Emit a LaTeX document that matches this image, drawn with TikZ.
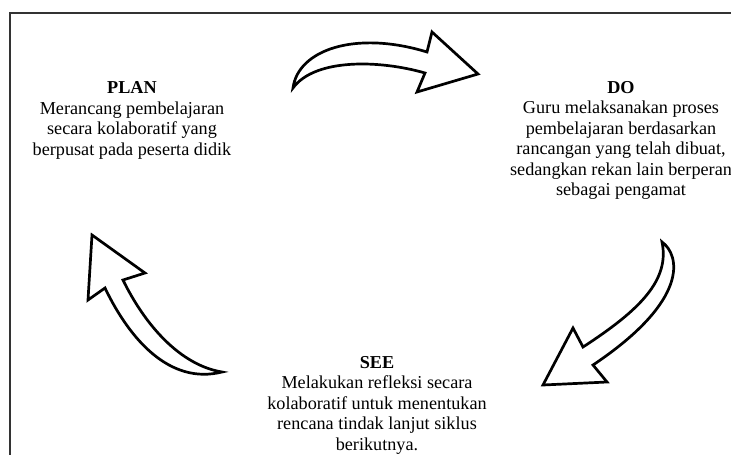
\documentclass[tikz,border=0pt]{standalone}
\usepackage{fontspec}
\setmainfont{Liberation Serif}
\tikzset{
    stage/.style={align=center, inner sep=0pt, font=\fontsize{18.2}{20.5}\selectfont},
    bigarrow/.style={draw=black, fill=white, line width=2.7pt, line join=miter},
}
\begin{document}
\begin{tikzpicture}[x=1pt,y=-1pt]
        \useasboundingbox (0,0) rectangle (731,455);
        \draw [line width=1.8pt, black!80] (10,455) -- (10,13) -- (731,13);

        \coordinate (T) at (293,88);
        \coordinate (R) at (662,242);
        \coordinate (L) at (222,372);
        \filldraw [bigarrow] (T) .. controls (298,50) and (355,30) .. (427,52) -- (432,32) -- (478,74) -- (417,92) -- (425,73) .. controls (380,60) and (315,58) .. (T) -- cycle;
        \filldraw [bigarrow] (R) .. controls (680,255) and (690,300) .. (593,365) -- (607,382) -- (543,385) -- (573,328) -- (583,347) .. controls (640,310) and (670,280) .. (R) -- cycle;
        \filldraw [bigarrow] (L) .. controls (170,385) and (130,340) .. (105,288) -- (88,300) -- (92,235) -- (145,273) -- (123,280) .. controls (145,325) and (180,365) .. (L) -- cycle;

        \node [stage] (plan) at (132,120.5) {\textbf{PLAN}\\Merancang pembelajaran\\secara kolaboratif yang\\berpusat pada peserta didik};
        \node [stage] (do) at (621,140.5) {\textbf{DO}\\Guru melaksanakan proses\\pembelajaran berdasarkan\\rancangan yang telah dibuat,\\sedangkan rekan lain berperan\\sebagai pengamat};
        \node [stage] (see) at (377,405) {\textbf{SEE}\\Melakukan refleksi secara\\kolaboratif untuk menentukan\\rencana tindak lanjut siklus\\berikutnya.};

    \end{tikzpicture}
\end{document}
